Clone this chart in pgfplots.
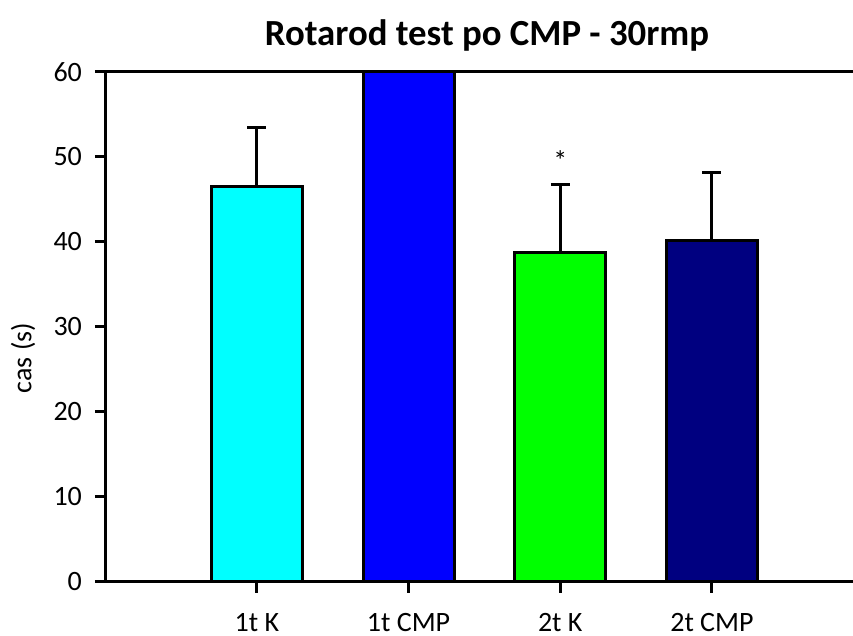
\documentclass[border=0pt]{standalone}
\usepackage{pgfplots}
\pgfplotsset{compat=1.18}
\usepackage{fontspec}
\setmainfont{Carlito}

\definecolor{barcyan}{RGB}{0,255,255}
\definecolor{barblue}{RGB}{0,0,255}
\definecolor{bargreen}{RGB}{0,255,0}
\definecolor{barnavy}{RGB}{0,0,128}

\begin{document}
\begin{tikzpicture}
\begin{axis}[
  scale only axis,
  width=373.5pt, height=255pt,
  xmin=-0.995, xmax=3.93,
  ymin=0, ymax=60,
  axis x line=box, axis y line=left,
  axis line style={-, line width=1.5pt, black},
  xtick={0,1,2,3},
  xticklabels={1t K,1t CMP,2t K,2t CMP},
  ytick={0,10,...,60},
  tick align=outside,
  xtick pos=left, ytick pos=left,
  major tick length=5.5pt,
  tick style={line width=1.5pt, black},
  /pgf/number format/assume math mode=true,
  every tick label/.append style={font=\fontsize{14}{16}\selectfont},
  yticklabel style={xshift=-3pt},
  xticklabel style={yshift=-6.8pt},
  ybar, bar width=45.5pt, bar shift=0pt,
  every axis plot/.append style={draw=black, line width=1.5pt},
  error bars/y dir=plus,
  error bars/y explicit,
  error bars/error bar style={line width=1.5pt, black},
  error bars/error mark options={rotate=90, mark size=4.75pt, line width=1.5pt, black},
]
% mean time on the rod, with standard deviation
\addplot[fill=barcyan] coordinates {(0,46.5) +- (0,7.0)};
\addplot[fill=barblue] coordinates {(1,60)};
\addplot[fill=bargreen] coordinates {(2,38.8) +- (0,8.0)};
\addplot[fill=barnavy] coordinates {(3,40.2) +- (0,8.0)};

\node[font=\fontsize{14}{16}\selectfont] at (axis cs:2,49.6) {*};

\coordinate (sw) at (rel axis cs:0,0);
\coordinate (ne) at (rel axis cs:1,1);
\coordinate (tt) at (rel axis cs:0.5,1);
\end{axis}

\node[rotate=90, font=\fontsize{14}{16}\selectfont]
  at ([xshift=-41.5pt, yshift=112pt]sw) {cas (s)};
\node[font=\bfseries\fontsize{18.4}{22}\selectfont]
  at ([xshift=3.75pt, yshift=18.5pt]tt) {Rotarod test po CMP - 30rmp};
\pgfresetboundingbox
\path ([xshift=-53pt,yshift=-27pt]sw) rectangle ([yshift=36pt]ne);
\end{tikzpicture}
\end{document}
